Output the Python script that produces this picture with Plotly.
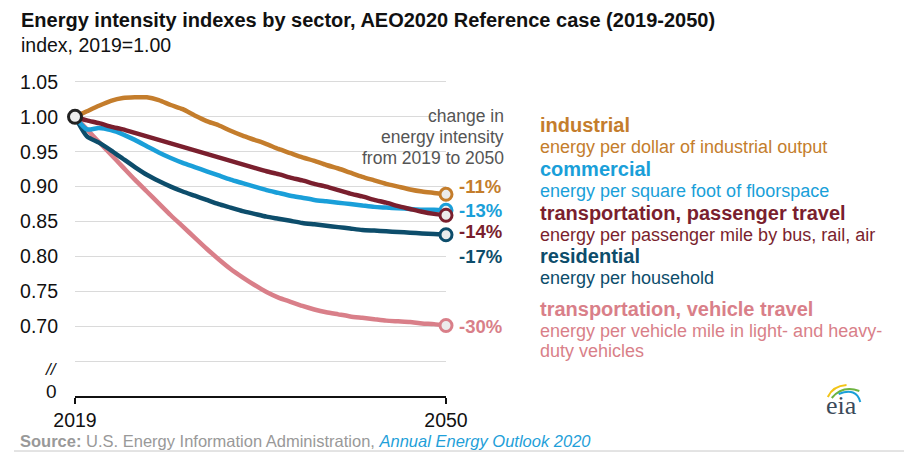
import plotly.graph_objects as go

# years shown on the x axis
years = list(range(2019, 2051))

# energy intensity index, 2019 = 1.00
industrial = [1.000, 1.008, 1.016, 1.023, 1.027, 1.028, 1.028, 1.024, 1.017, 1.011,
              1.002, 0.994, 0.988, 0.980, 0.973, 0.967, 0.961, 0.954, 0.948, 0.942,
              0.937, 0.931, 0.926, 0.920, 0.914, 0.909, 0.904, 0.900, 0.896, 0.893,
              0.891, 0.889]
commercial = [1.000, 0.982, 0.984, 0.981, 0.975, 0.967, 0.958, 0.949, 0.941, 0.934,
              0.928, 0.922, 0.916, 0.910, 0.905, 0.900, 0.895, 0.891, 0.887, 0.884,
              0.881, 0.879, 0.877, 0.875, 0.873, 0.871, 0.870, 0.869, 0.868, 0.867,
              0.867, 0.866]
passenger = [1.000, 0.995, 0.991, 0.986, 0.982, 0.977, 0.972, 0.967, 0.962, 0.957,
             0.952, 0.947, 0.942, 0.937, 0.932, 0.927, 0.922, 0.918, 0.913, 0.909,
             0.904, 0.900, 0.895, 0.890, 0.886, 0.881, 0.877, 0.872, 0.868, 0.864,
             0.861, 0.859]
residential = [1.000, 0.972, 0.963, 0.952, 0.940, 0.928, 0.917, 0.908, 0.900, 0.893,
               0.887, 0.881, 0.875, 0.870, 0.865, 0.861, 0.857, 0.854, 0.851, 0.848,
               0.846, 0.844, 0.842, 0.840, 0.838, 0.837, 0.836, 0.835, 0.834, 0.833,
               0.832, 0.831]
vehicle = [1.000, 0.982, 0.964, 0.946, 0.928, 0.910, 0.893, 0.876, 0.859, 0.843,
           0.827, 0.811, 0.796, 0.782, 0.770, 0.759, 0.749, 0.741, 0.735, 0.729,
           0.724, 0.720, 0.717, 0.714, 0.712, 0.710, 0.708, 0.707, 0.706, 0.704,
           0.703, 0.701]

# y axis ticks: the bottom one is the broken-axis "0" (drawn as a note below)
y_tickvals = [0.60, 0.65, 0.70, 0.75, 0.80, 0.85, 0.90, 0.95, 1.00, 1.05]
y_ticktext = ["", "", "0.70", "0.75", "0.80", "0.85", "0.90", "0.95", "1.00", "1.05"]

# change labels at the right end of the lines
change_labels = ["-11%", "-13%", "-14%", "-17%", "-30%"]
change_label_y = [0.900, 0.866, 0.836, 0.800, 0.700]

names = ["industrial", "commercial", "transportation, passenger travel",
         "residential", "transportation, vehicle travel"]
descriptions = [["energy per dollar of industrial output"],
                ["energy per square foot of floorspace"],
                ["energy per passenger mile by bus, rail, air"],
                ["energy per household"],
                ["energy per vehicle mile in light- and heavy-", "duty vehicles"]]

ORANGE = "#c47d2c"
BLUE = "#1a9fd9"
MAROON = "#7a1f2e"
TEAL = "#0d4d6b"
PINK = "#d97f89"
colors = [ORANGE, BLUE, MAROON, TEAL, PINK]

FONT = "Liberation Sans, Arial, sans-serif"

# the page puts the figure 8px in from the window corner
OX, OY = 8, 8
W, H = 904, 451
L, R, T, B = 61, 466, 60, 63


def px(x):
    # window pixel -> paper x
    return (x - OX - L) / (W - L - R)


def py(y):
    # window pixel -> paper y
    return (H - B - (y - OY)) / (H - T - B)


fig = go.Figure()

# draw order: pink at the back, orange on top
series = [(vehicle, PINK), (residential, TEAL), (commercial, BLUE),
          (passenger, MAROON), (industrial, ORANGE)]
for values, color in series:
    fig.add_trace(go.Scatter(x=years, y=values, mode="lines",
                             line=dict(color=color, width=4.5, shape="spline", smoothing=0.6),
                             cliponaxis=False, showlegend=False, hoverinfo="skip"))

for values, color in series:
    fig.add_trace(go.Scatter(x=[years[-1]], y=[values[-1]], mode="markers",
                             marker=dict(size=12, color="#ececec",
                                         line=dict(color=color, width=3)),
                             cliponaxis=False, showlegend=False, hoverinfo="skip"))

fig.add_trace(go.Scatter(x=[years[0]], y=[industrial[0]], mode="markers",
                         marker=dict(size=13, color="#ececec",
                                     line=dict(color="#222222", width=3)),
                         cliponaxis=False, showlegend=False, hoverinfo="skip"))

annotations = []

# title and subtitle
annotations.append(dict(text="<b>Energy intensity indexes by sector, AEO2020 Reference case (2019-2050)</b>",
                        x=px(12), y=py(20), xanchor="left", yanchor="middle",
                        font=dict(size=20, color="#111111")))
annotations.append(dict(text="index, 2019=1.00", x=px(12), y=py(45),
                        xanchor="left", yanchor="middle",
                        font=dict(size=19.5, color="#111111")))

# broken axis mark and its zero
annotations.append(dict(text="<i>//</i>", x=px(54), y=py(369), xanchor="right",
                        yanchor="middle", font=dict(size=17, color="#111111")))
annotations.append(dict(text="0", x=px(53), y=py(391), xanchor="right",
                        yanchor="middle", font=dict(size=19, color="#111111")))

# "change in energy intensity" note
for i, line in enumerate(["change in", "energy intensity", "from 2019 to 2050"]):
    annotations.append(dict(text=line, x=px(507), y=py(116 + 21 * i),
                            xanchor="right", yanchor="middle",
                            font=dict(size=17.5, color="#555555")))

# change labels
for label, ly, color in zip(change_labels, change_label_y, colors):
    annotations.append(dict(text="<b>" + label + "</b>", x=years[-1], y=ly,
                            xref="x", yref="y", xanchor="left", yanchor="middle",
                            xshift=11, font=dict(size=18.5, color=color)))

# sector key on the right
name_y = [125, 169, 213, 256, 309]
desc_y = [147, 191, 235, 278, 331]
for name, desc, color, ny, dy in zip(names, descriptions, colors, name_y, desc_y):
    annotations.append(dict(text="<b>" + name + "</b>", x=px(539), y=py(ny),
                            xanchor="left", yanchor="middle",
                            font=dict(size=20, color=color)))
    for k, line in enumerate(desc):
        annotations.append(dict(text=line, x=px(539), y=py(dy + 20 * k), xanchor="left",
                                yanchor="middle", font=dict(size=18, color=color)))

# source note
annotations.append(dict(text="<b>Source:</b> U.S. Energy Information Administration, "
                             "<i><span style='color:#1f9fd9'>Annual Energy Outlook 2020</span></i>",
                        x=px(11), y=py(441), xanchor="left", yanchor="middle",
                        font=dict(size=16.5, color="#999999")))

# eia logo text
annotations.append(dict(text="eia", x=px(848), y=py(405), xanchor="center",
                        yanchor="middle",
                        font=dict(size=26, color="#3b4a5a",
                                  family="Liberation Serif, Times New Roman, serif")))

for a in annotations:
    a.setdefault("xref", "paper")
    a.setdefault("yref", "paper")
    a["showarrow"] = False

shapes = [
    # white patch behind the note so gridlines stop short of it
    dict(type="rect", xref="paper", yref="y", x0=px(353), x1=1.02, y0=0.935, y1=1.012,
         fillcolor="white", line=dict(width=0), layer="between"),
    # rule under the source line
    dict(type="line", xref="paper", yref="paper", x0=px(7), x1=px(912),
         y0=py(451), y1=py(451), line=dict(color="#c8c8c8", width=1)),
    # eia logo arcs
    dict(type="path", xref="paper", yref="paper",
         path=f"M {px(834)},{py(397)} Q {px(839)},{py(386)} {px(853)},{py(385)}",
         line=dict(color="#f2c418", width=2)),
    dict(type="path", xref="paper", yref="paper",
         path=f"M {px(838)},{py(398)} Q {px(849)},{py(385)} {px(866)},{py(391)}",
         line=dict(color="#6db33f", width=2)),
    dict(type="path", xref="paper", yref="paper",
         path=f"M {px(845)},{py(394)} Q {px(863)},{py(387)} {px(867)},{py(402)}",
         line=dict(color="#1a9fd9", width=2)),
]

fig.update_layout(
    width=W, height=H,
    margin=dict(l=L, r=R, t=T, b=B),
    paper_bgcolor="white", plot_bgcolor="white",
    font=dict(family=FONT, color="#111111"),
    annotations=annotations,
    shapes=shapes,
    showlegend=False,
)

fig.update_xaxes(range=[2019, 2050], tickvals=[2019, 2050], ticktext=["2019", "2050"],
                 showgrid=False, zeroline=False, showline=True, linecolor="#111111",
                 linewidth=1.5, ticks="outside", ticklen=6, tickwidth=1.5,
                 tickcolor="#111111", tickfont=dict(size=19.5, color="#111111"))
fig.update_yaxes(range=[0.60, 1.07], tickvals=y_tickvals, ticktext=y_ticktext,
                 showgrid=True, gridcolor="#dadada", gridwidth=1, zeroline=False,
                 showline=False, ticks="", ticklabelstandoff=16,
                 tickfont=dict(size=19.5, color="#111111"))

fig.write_html("out.html")
